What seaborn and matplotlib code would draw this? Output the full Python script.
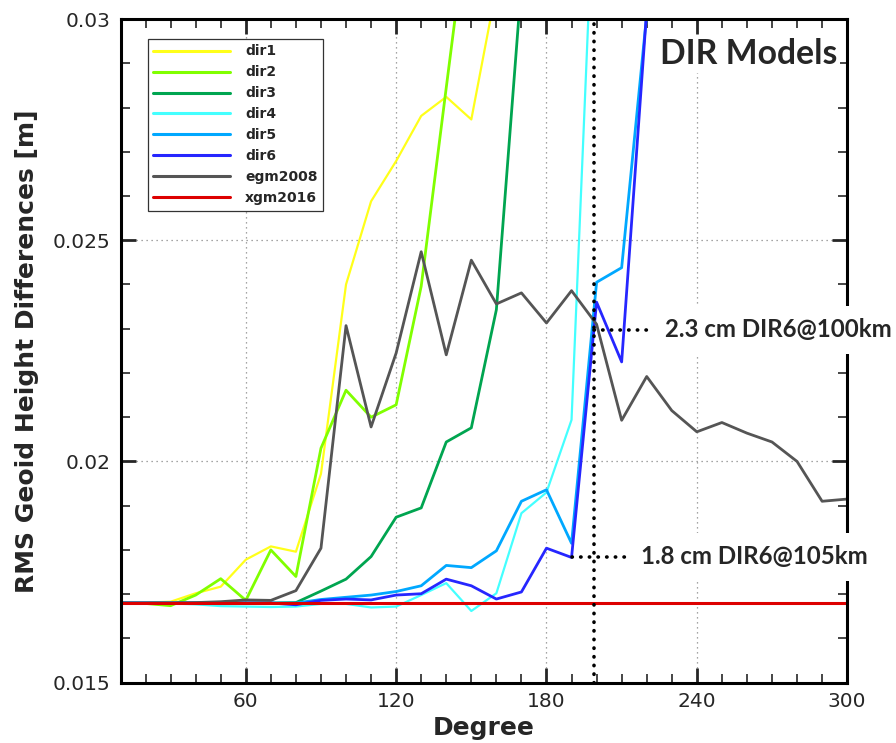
import numpy as np
import pandas as pd
import matplotlib
matplotlib.use('Agg')
import matplotlib.pyplot as plt
import seaborn as sns
from matplotlib.ticker import MultipleLocator, FixedLocator, FuncFormatter

# spherical harmonic degree (step 10)
degree = [10, 20, 30, 40, 50, 60, 70, 80, 90, 100, 110, 120, 130, 140, 150,
          160, 170, 180, 190, 200, 210, 220, 230, 240, 250, 260, 270, 280, 290, 300]

# RMS geoid height differences [m] (lines leave the frame at the top)
dir1 = [0.01680, 0.01681, 0.01683, 0.01702, 0.01717, 0.01778, 0.01808, 0.01796, 0.01972,
        0.02400, 0.02588, 0.02679, 0.02781, 0.02824, 0.02773, 0.03070]
dir2 = [0.01680, 0.01679, 0.01674, 0.01698, 0.01735, 0.01686, 0.01800, 0.01740, 0.02030,
        0.02161, 0.02100, 0.02128, 0.02396, 0.02845, 0.03290]
dir3 = [0.01680, 0.01680, 0.01680, 0.01680, 0.01680, 0.01680, 0.01680, 0.01681, 0.01707,
        0.01734, 0.01785, 0.01874, 0.01895, 0.02044, 0.02076, 0.02343, 0.03080]
dir4 = [0.01680, 0.01680, 0.01679, 0.01677, 0.01673, 0.01672, 0.01671, 0.01672, 0.01678,
        0.01678, 0.01670, 0.01672, 0.01698, 0.01725, 0.01662, 0.01702, 0.01883, 0.01930,
        0.02094, 0.03450]
dir5 = [0.01680, 0.01680, 0.01680, 0.01680, 0.01680, 0.01680, 0.01680, 0.01680, 0.01688,
        0.01693, 0.01698, 0.01706, 0.01719, 0.01765, 0.01760, 0.01798, 0.01910, 0.01936,
        0.01815, 0.02405, 0.02438, 0.03010, 0.03600]
dir6 = [0.01680, 0.01680, 0.01680, 0.01680, 0.01680, 0.01680, 0.01680, 0.01676, 0.01686,
        0.01689, 0.01687, 0.01698, 0.01701, 0.01734, 0.01719, 0.01689, 0.01705, 0.01804,
        0.01783, 0.02360, 0.02225, 0.03020, 0.03600]
egm2008 = [0.01680, 0.01680, 0.01680, 0.01681, 0.01683, 0.01687, 0.01686, 0.01708, 0.01804,
           0.02307, 0.02078, 0.02245, 0.02474, 0.02241, 0.02455, 0.02356, 0.02381, 0.02313,
           0.02386, 0.02310, 0.02093, 0.02192, 0.02115, 0.02067, 0.02088, 0.02064, 0.02044,
           0.02000, 0.01910, 0.01915]
xgm2016 = [0.0168, 0.0168, 0.0168, 0.0168, 0.0168, 0.0168, 0.0168, 0.0168, 0.0168, 0.0168,
           0.0168, 0.0168, 0.0168, 0.0168, 0.0168, 0.0168, 0.0168, 0.0168, 0.0168, 0.0168,
           0.0168, 0.0168, 0.0168, 0.0168, 0.0168, 0.0168, 0.0168, 0.0168, 0.0168, 0.0168]

model_names = ['dir1', 'dir2', 'dir3', 'dir4', 'dir5', 'dir6', 'egm2008', 'xgm2016']
model_values = [dir1, dir2, dir3, dir4, dir5, dir6, egm2008, xgm2016]
model_colors = ['#ffff1a', '#80ff00', '#00a550', '#44ffff', '#00a8ff', '#2626ff', '#555555', '#dd0000']
model_widths = [1.6, 2.0, 2.0, 1.6, 2.0, 2.0, 2.0, 2.2]

# annotations
cut_degree = 199
note1 = '2.3 cm DIR6@100km'
note1_y = 0.02298
note2 = '1.8 cm DIR6@105km'
note2_y = 0.01785

rows = []
for name, vals in zip(model_names, model_values):
    for d, v in zip(degree, vals):
        rows.append({'model': name, 'degree': d, 'rms': v})
df = pd.DataFrame(rows)

sns.set_style('ticks')
plt.rcParams['font.family'] = ['DejaVu Sans']

fig, ax = plt.subplots(figsize=(8.96, 7.43), dpi=100)
fig.subplots_adjust(left=0.1345, right=0.9455, top=0.9744, bottom=0.0812)

for name, col, lw in zip(model_names, model_colors, model_widths):
    sns.lineplot(data=df[df['model'] == name], x='degree', y='rms', color=col,
                 linewidth=lw, label=name, ax=ax)

ax.set_xlim(10, 300)
ax.set_ylim(0.015, 0.03)

ax.xaxis.set_major_locator(MultipleLocator(60))
ax.xaxis.set_minor_locator(MultipleLocator(10))
ax.yaxis.set_major_locator(FixedLocator([0.015, 0.02, 0.025, 0.03]))
ax.yaxis.set_minor_locator(MultipleLocator(0.001))
ax.yaxis.set_major_formatter(FuncFormatter(lambda v, p: f'{v:g}'))

ax.grid(True, which='major', color='#888888', linestyle=(0, (1, 3)), linewidth=0.9)
ax.tick_params(which='both', direction='in', top=True, right=True)
ax.tick_params(which='major', length=11, width=2, labelsize=14.5, pad=7)
ax.tick_params(which='minor', length=6.5, width=1.2)
for sp in ax.spines.values():
    sp.set_linewidth(2.2)
    sp.set_color('black')

ax.set_xlabel('Degree', fontsize=18, fontweight='bold', labelpad=3)
ax.set_ylabel('RMS Geoid Height Differences [m]', fontsize=18, fontweight='bold', labelpad=10)

# dotted guide lines
dot_style = dict(color='black', linewidth=2.6, linestyle=(0, (0.1, 2.3)), dash_capstyle='round')
ax.axvline(cut_degree, **dot_style)
ax.plot([cut_degree, 222.4], [note1_y, note1_y], **dot_style)
ax.plot([190, 215], [note2_y, note2_y], **dot_style)

box = dict(facecolor='white', edgecolor='none', pad=9)
ax.text(227.2, note1_y, note1, fontsize=17.3, fontweight='bold', family=['Lato', 'DejaVu Sans'],
        ha='left', va='center', bbox=box, clip_on=False, zorder=10)
ax.text(217.9, note2_y, note2, fontsize=17.3, fontweight='bold', family=['Lato', 'DejaVu Sans'],
        ha='left', va='center', bbox=box, clip_on=False, zorder=10)
ax.text(225.2, 0.02898, 'DIR Models', fontsize=24.3, fontweight='bold', family=['Lato', 'DejaVu Sans'],
        ha='left', va='baseline', bbox=dict(facecolor='white', edgecolor='none', pad=2), zorder=10)

leg = ax.legend(loc='upper left', bbox_to_anchor=(0.0374, 0.970), borderaxespad=0,
                frameon=True, fancybox=False, framealpha=1, edgecolor='#333333',
                prop={'size': 10, 'weight': 'bold'}, handlelength=5.5, handletextpad=1.1,
                labelspacing=0.5, borderpad=0.4)
leg.get_frame().set_linewidth(0.9)
for h in leg.get_lines():
    h.set_linewidth(2.2)

fig.savefig('out.png', dpi=100)
